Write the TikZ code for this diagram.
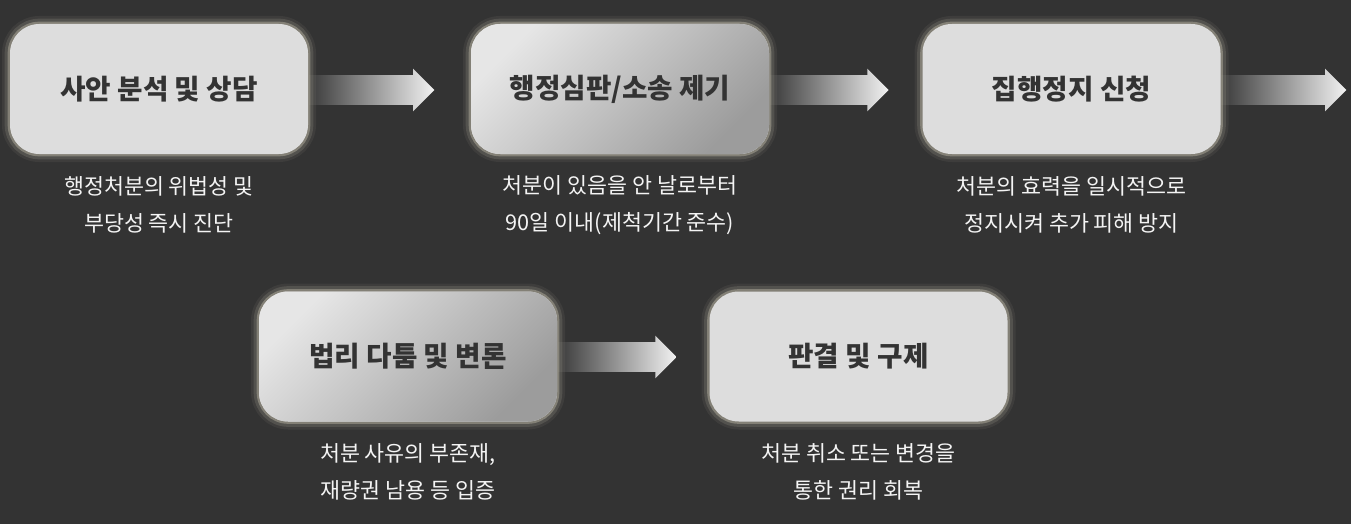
\documentclass[tikz,border=0pt]{standalone}
\usepackage{fontspec}
\newfontfamily\krtitle{Noto Sans CJK KR}
\newfontfamily\krnote{Noto Sans CJK KR}
\usetikzlibrary{shapes.arrows,positioning}
\definecolor{bgdark}{HTML}{333333}
\definecolor{boxgray}{HTML}{DDDDDD}
\definecolor{shadelight}{HTML}{E6E6E6}
\definecolor{shadedark}{HTML}{9C9C9C}
\definecolor{titleink}{HTML}{333333}
\definecolor{noteink}{HTML}{F4F4F4}
\definecolor{glowc}{HTML}{F2EBD3}
\definecolor{flowdark}{HTML}{3A3A3A}
\definecolor{flowlight}{HTML}{F2F2F2}
\tikzset{
  glow/.style={preaction={draw=glowc,line width=12pt,opacity=.06},
               preaction={draw=glowc,line width=8pt,opacity=.12},
               preaction={draw=glowc,line width=3.5pt,opacity=.3}},
  stage/.style={glow,rounded corners=22pt,minimum width=223.5pt,minimum height=97.5pt,
               inner sep=0pt,outer sep=0pt,fill=boxgray,text=titleink,
               font=\krtitle\bfseries\fontsize{20.75}{24}\selectfont},
  shadestage/.style={stage,top color=shadelight,bottom color=shadedark,shading angle=45},
  note/.style={text=noteink,align=center,font=\krnote\fontsize{16.3}{27.75}\selectfont},
  flow/.style={single arrow,single arrow head extend=4.9pt,inner xsep=0pt,inner ysep=10.875pt,
               minimum height=91pt,outer sep=0pt,
               left color=flowdark,right color=flowlight}
}
\begin{document}
\begin{tikzpicture}[x=0.75pt,y=-0.75pt]
\useasboundingbox (0,0) rectangle (1351,524);
\fill[bgdark] (0,0) rectangle (1351,524); %background

%arrows first, boxes on top
\coordinate (r1) at (309,90);
\coordinate (r2) at (770,90);
\coordinate (r3) at (1221,90);
\coordinate (r4) at (558,357);
\node[flow,minimum height=94pt,right=0pt of r1] (a1) {};
\node[flow,minimum height=89pt,right=0pt of r2] (a2) {};
\node[flow,minimum height=94pt,right=0pt of r3] (a3) {};
\node[flow,minimum height=89pt,right=0pt of r4] (a4) {};

%stages
\node[stage] (b1) at (159,89) {사안 분석 및 상담};
\node[shadestage] (b2) at (620,89) {행정심판/소송 제기};
\node[stage] (b3) at (1071.5,89) {집행정지 신청};
\node[shadestage] (b4) at (408,356.5) {법리 다툼 및 변론};
\node[stage] (b5) at (858.5,356.5) {판결 및 구제};

%notes under the stages
\node[note] (n1) at (159,205) {행정처분의 위법성 및\\부당성 즉시 진단};
\node[note] (n2) at (620,205) {처분이 있음을 안 날로부터\\90일 이내(제척기간 준수)};
\node[note] (n3) at (1071.5,205) {처분의 효력을 일시적으로\\정지시켜 추가 피해 방지};
\node[note] (n4) at (408,471.5) {처분 사유의 부존재,\\재량권 남용 등 입증};
\node[note] (n5) at (858.5,471.5) {처분 취소 또는 변경을\\통한 권리 회복};
\end{tikzpicture}
\end{document}
